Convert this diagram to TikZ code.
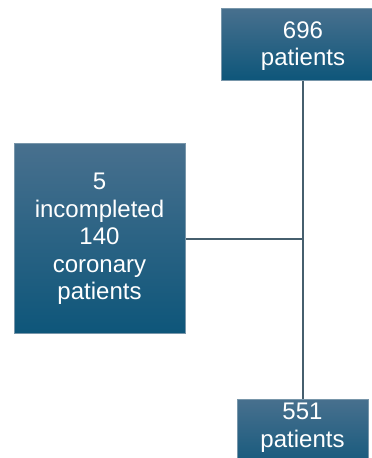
\documentclass[tikz,border=0pt]{standalone}
\usepackage{fontspec}
\setmainfont{Liberation Sans}
\definecolor{boxtop}{RGB}{72,112,142}
\definecolor{boxbot}{RGB}{14,86,122}
\definecolor{boxedge}{RGB}{120,150,170}
\definecolor{linec}{RGB}{70,95,110}
\tikzset{
  box/.style={draw=boxedge, line width=0.6pt, top color=boxtop, bottom color=boxbot},
  label/.style={text=white, align=center, inner sep=0pt,
    font=\fontsize{24}{27.5}\selectfont},
  conn/.style={draw=linec, line width=1.2pt}
}
\begin{document}
\begin{tikzpicture}[x=1pt,y=-1pt]
\useasboundingbox (0,0) rectangle (372,458);
\clip (0,0) rectangle (372,458);
\coordinate (ttop) at (303,80);
\coordinate (tbot) at (303,399);
\coordinate (lr) at (185,239);
\coordinate (j) at (303,239);
\draw[conn] (ttop) -- (tbot);
\draw[conn] (lr) -- (j);
\path[box] (221,8) rectangle (385,80);
\node[label] (top) at (303,46) {696\\patients};
\path[box] (14,143) rectangle (185,333);
\node[label] (left) at (99.5,239) {5\\incompleted\\140\\coronary\\patients};
\path[box] (237,399) rectangle (368,475);
\node[label, anchor=north] (bot) at (302.5,403) {551\\patients};
\end{tikzpicture}
\end{document}
